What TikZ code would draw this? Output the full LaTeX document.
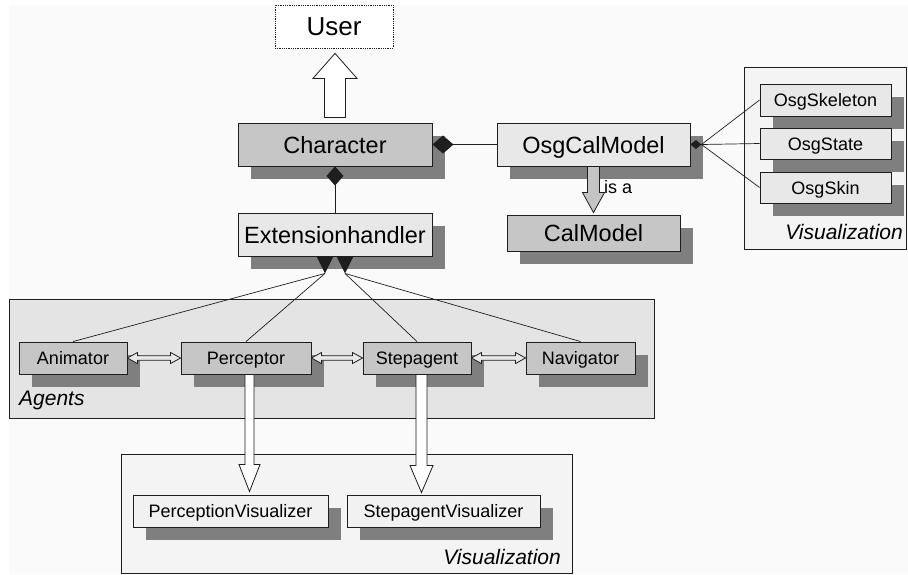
\documentclass[tikz,border=0pt]{standalone}
\usepackage{fontspec}
\setmainfont{Liberation Sans}
\usetikzlibrary{calc,arrows.meta,shadows}
\definecolor{shd}{HTML}{7F7F7F}
\definecolor{dkgray}{HTML}{C6C6C6}
\definecolor{ltgray}{HTML}{E8E8E8}
\definecolor{agbg}{HTML}{E4E4E4}
\definecolor{vizbg}{HTML}{F4F4F4}
\definecolor{bord}{HTML}{1E1E1E}
\definecolor{pagebg}{HTML}{FAFAFA}
\definecolor{isagray}{HTML}{C4C4C4}
\tikzset{
 box/.style={draw=bord, line width=0.9pt, inner sep=0pt, text=black, text depth=0pt,
   general shadow={fill=shd, shadow xshift=13pt, shadow yshift=-13pt}},
 bigbox/.style={box, minimum height=43pt, text height=17pt, font=\fontsize{23.5}{26}\selectfont},
 smallbox/.style={box, minimum height=32pt, text height=13.5pt, font=\fontsize{18}{20}\selectfont},
 container/.style={draw=bord, line width=0.8pt, inner sep=0pt},
 conn/.style={draw=bord, line width=0.7pt},
 grouplabel/.style={font=\itshape\fontsize{21}{24}\selectfont, inner sep=0pt, text=black},
 openarrow/.style={draw=bord, line width=0.8pt, fill=white},
}
\newcommand\hdblarrow[2]{\draw[openarrow, fill=ltgray] (#1) -- ++(10,5.5) -- ++(0,-3.2) -- ($(#2)+(-10,2.3)$) -- ++(0,3.2) -- (#2) -- ++(-10,-5.5) -- ++(0,3.2) -- ($(#1)+(10,-2.3)$) -- ++(0,-3.2) -- cycle;}
\newcommand\vbigarrow[6]{\draw[openarrow,#1] ($(#2)+(-#4,0)$) -- ($(#3)+(-#4,#6)$) -- ($(#3)+(-#5,#6)$) -- (#3) -- ($(#3)+(#5,#6)$) -- ($(#3)+(#4,#6)$) -- ($(#2)+(#4,0)$) -- cycle;}
\begin{document}
\begin{tikzpicture}[x=1pt,y=1pt]
\useasboundingbox (0,0) rectangle (908,-574);
\fill[pagebg] (9,-5) rectangle (908,-574);
% containers
\node[container, fill=agbg, minimum width=645pt, minimum height=119pt] (AgentsBox) at (331.5,-358.5) {};
\node[container, fill=vizbg, minimum width=162pt, minimum height=182pt] (VizRight) at (825,-158) {};
\node[container, fill=vizbg, minimum width=451pt, minimum height=119pt] (VizBottom) at (346.5,-513.5) {};
\node[grouplabel, anchor=west] (AgentsLbl) at (19,-400) {Agents};
\node[grouplabel, anchor=east] (VizRightLbl) at (903,-232) {Visualization};
\node[grouplabel, anchor=east] (VizBottomLbl) at (561,-557) {Visualization};
% top nodes
\node[draw=bord, line width=0.8pt, densely dotted, fill=white, minimum width=118pt, minimum height=43pt, inner sep=0pt, text height=18.6pt, text depth=0pt, font=\fontsize{26}{28}\selectfont] (User) at (334,-26.5) {User};
\node[bigbox, fill=dkgray, minimum width=194pt] (Character) at (335,-144.5) {Character};
\node[bigbox, fill=ltgray, minimum width=193pt] (OsgCalModel) at (593.5,-144.5) {OsgCalModel};
\node[bigbox, fill=ltgray, minimum width=194pt] (Ext) at (335,-234.5) {Extensionhandler};
\node[bigbox, fill=dkgray, minimum width=173pt, minimum height=36pt] (CalModel) at (593.5,-233) {CalModel};
% osg parts
\node[smallbox, fill=ltgray, minimum width=131pt] (OsgSkeleton) at (825.5,-100) {OsgSkeleton};
\node[smallbox, fill=ltgray, minimum width=131pt, minimum height=31pt] (OsgState) at (825.5,-143.5) {OsgState};
\node[smallbox, fill=ltgray, minimum width=131pt, minimum height=31pt] (OsgSkin) at (825.5,-187.5) {OsgSkin};
% agents
\node[smallbox, fill=dkgray, minimum width=108pt] (Animator) at (73,-358) {Animator};
\node[smallbox, fill=dkgray, minimum width=130pt] (Perceptor) at (246,-358) {Perceptor};
\node[smallbox, fill=dkgray, minimum width=108pt] (Stepagent) at (417,-358) {Stepagent};
\node[smallbox, fill=dkgray, minimum width=109pt] (Navigator) at (580.5,-358) {Navigator};
% visualizers
\node[smallbox, fill=ltgray!60!white, minimum width=195pt] (PercVis) at (230.5,-511) {PerceptionVisualizer};
\node[smallbox, fill=ltgray!60!white, minimum width=193pt] (StepVis) at (443.5,-511) {StepagentVisualizer};
% User arrow
\coordinate (us) at ($(Character.north)+(0,5)$);
\coordinate (ut) at ($(us |- User.south)+(0,-5)$);
\vbigarrow{fill=white}{us}{ut}{10.5}{22}{-25}
% is a
\coordinate (it) at ($(OsgCalModel.south |- CalModel.north)+(0,2)$);
\vbigarrow{fill=isagray}{OsgCalModel.south}{it}{6}{11}{20}
\node[font=\fontsize{18}{20}\selectfont, anchor=west, inner sep=0pt] (isa) at (604,-187) {is a};
% compositions
\draw[conn, -{Diamond[length=21pt,width=18pt]}] (OsgCalModel.west) -- (Character.east);
\draw[conn, -{Diamond[length=19pt,width=17pt]}] (Ext.north) -- (Character.south);
\coordinate (dk) at ($(OsgCalModel.east)+(11,0)$);
\draw[conn] (OsgSkeleton.west) -- (dk);
\draw[conn] (OsgState.west) -- (dk);
\draw[conn] (OsgSkin.west) -- (dk);
\fill[bord] (OsgCalModel.east) -- ++(5.5,4.5) -- (dk) -- ++(-5.5,-4.5) -- cycle;
\coordinate (dl) at ($(Ext.south)+(-10,0)$);
\coordinate (dr) at ($(Ext.south)+(10,0)$);
\coordinate (dlt) at ($(dl)+(0,-17)$);
\coordinate (drt) at ($(dr)+(0,-17)$);
\draw[conn] (Animator.north) -- (dlt);
\draw[conn] (Perceptor.north) -- (dlt);
\draw[conn] (Stepagent.north) -- (drt);
\draw[conn] (Navigator.north) -- (drt);
\fill[bord] ($(dl)+(-8.5,0)$) -- ($(dl)+(8.5,0)$) -- (dlt) -- cycle;
\fill[bord] ($(dr)+(-8.5,0)$) -- ($(dr)+(8.5,0)$) -- (drt) -- cycle;
% agent links
\hdblarrow{Animator.east}{Perceptor.west}
\hdblarrow{Perceptor.east}{Stepagent.west}
\hdblarrow{Stepagent.east}{Navigator.west}
% visualizer arrows
\coordinate (ps) at ($(Perceptor.south)+(3.5,0)$);
\coordinate (pt) at ($(ps |- PercVis.north)+(0,3)$);
\vbigarrow{fill=white}{ps}{pt}{4.5}{10.5}{27}
\coordinate (ss) at ($(Stepagent.south)+(4.5,0)$);
\coordinate (st) at ($(ss |- StepVis.north)+(0,2)$);
\vbigarrow{fill=white}{ss}{st}{5.5}{11.5}{27}
\end{tikzpicture}
\end{document}
